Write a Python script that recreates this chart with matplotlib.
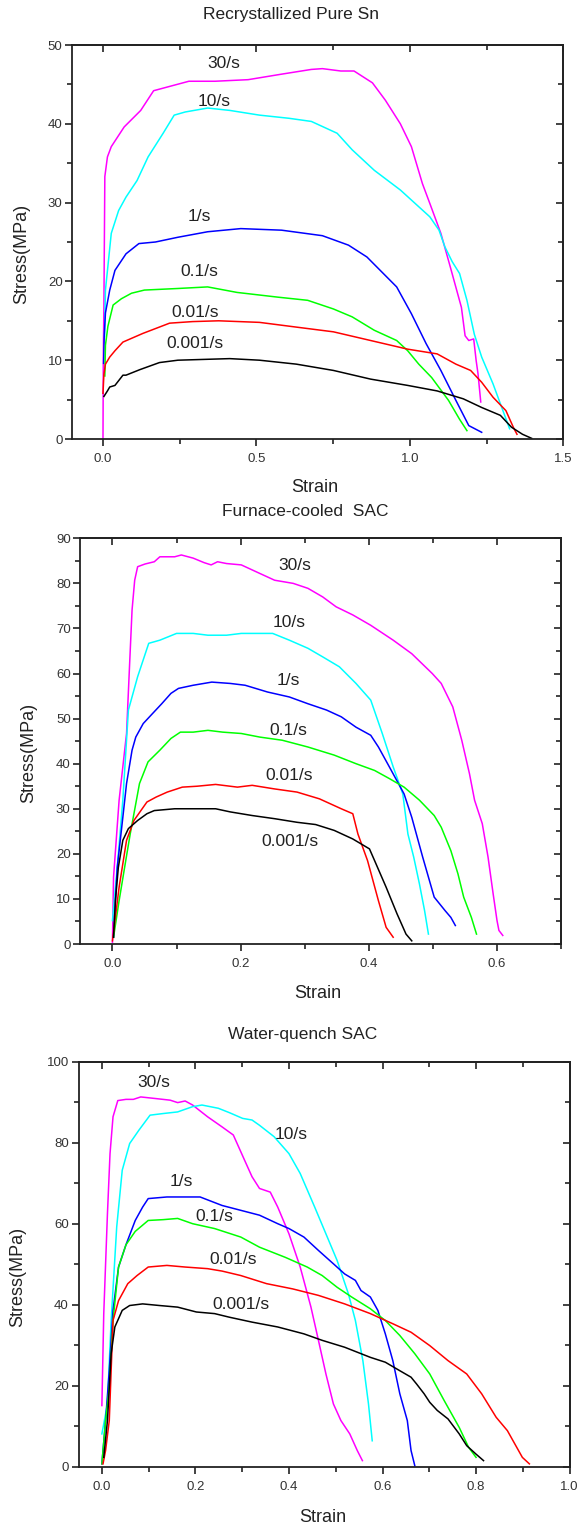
import matplotlib
matplotlib.use("Agg")
import matplotlib.pyplot as plt
from matplotlib.ticker import MultipleLocator, FixedLocator

plt.rcParams['font.family'] = ['Liberation Sans', 'DejaVu Sans']

rates = ["30/s", "10/s", "1/s", "0.1/s", "0.01/s", "0.001/s"]
colors = ["#FF00FF", "#00FFFF", "#0000FF", "#00FF00", "#FF0000", "#000000"]

# ---------------- Recrystallized pure Sn ----------------
sn_30_x = [0.0, 0.001, 0.003, 0.006, 0.0145, 0.027, 0.069, 0.123, 0.165, 0.232, 0.280, 0.365, 0.473,
           0.582, 0.679, 0.715, 0.775, 0.818, 0.878, 0.920, 0.969, 1.005, 1.041, 1.065, 1.101,
           1.132, 1.168, 1.180, 1.192, 1.208, 1.216, 1.222, 1.231]
sn_30_y = [0.0, 10.0, 17.0, 33.3, 35.8, 37.1, 39.6, 41.7, 44.2, 44.9, 45.4, 45.4, 45.6,
           46.3, 46.9, 47.0, 46.7, 46.7, 45.2, 43.0, 40.0, 37.1, 32.4, 29.9, 26.1,
           21.8, 16.7, 13.1, 12.5, 12.7, 9.96, 8.3, 4.7]
sn_10_x = [0.005, 0.008, 0.027, 0.051, 0.075, 0.111, 0.147, 0.196, 0.232, 0.268, 0.341, 0.413, 0.510,
           0.606, 0.679, 0.763, 0.812, 0.884, 0.969, 1.065, 1.095, 1.114, 1.138, 1.162, 1.186,
           1.210, 1.234, 1.271, 1.307, 1.325]
sn_10_y = [13.0, 18.9, 26.1, 29.0, 30.7, 32.8, 35.8, 38.8, 41.1, 41.5, 42.0, 41.7, 41.1,
           40.7, 40.3, 38.8, 36.7, 34.1, 31.6, 28.2, 26.5, 24.4, 22.5, 21.0, 17.6,
           13.3, 10.4, 7.0, 3.2, 1.3]
sn_1_x = [0.002, 0.004, 0.008, 0.022, 0.039, 0.075, 0.117, 0.171, 0.244, 0.341, 0.449, 0.582,
          0.715, 0.800, 0.860, 0.957, 1.005, 1.053, 1.101, 1.150, 1.192, 1.234]
sn_1_y = [9.6, 13.0, 16.0, 18.9, 21.4, 23.5, 24.8, 25.0, 25.6, 26.3, 26.7, 26.5,
          25.8, 24.6, 23.1, 19.3, 15.9, 12.1, 8.7, 4.9, 1.7, 0.85]
sn_01_x = [0.006, 0.008, 0.016, 0.033, 0.060, 0.093, 0.135, 0.244, 0.341, 0.437, 0.570, 0.667,
           0.751, 0.812, 0.884, 0.957, 0.993, 1.029, 1.071, 1.126, 1.162, 1.186]
sn_01_y = [8.0, 11.9, 14.3, 17.0, 17.8, 18.5, 18.9, 19.1, 19.3, 18.6, 18.0, 17.6,
           16.5, 15.5, 13.8, 12.5, 11.2, 9.5, 7.8, 4.9, 2.5, 1.06]
sn_001_x = [0.0, 0.003, 0.008, 0.022, 0.039, 0.065, 0.13, 0.217, 0.292, 0.377, 0.510, 0.630, 0.751,
            0.872, 0.993, 1.089, 1.150, 1.198, 1.234, 1.271, 1.313, 1.337, 1.349]
sn_001_y = [5.8, 8.2, 9.5, 10.4, 11.2, 12.3, 13.4, 14.7, 14.9, 15.0, 14.8, 14.2, 13.6,
            12.5, 11.4, 10.8, 9.5, 8.7, 7.2, 5.3, 3.6, 1.5, 0.6]
sn_0001_x = [0.003, 0.0145, 0.022, 0.039, 0.065, 0.075, 0.12, 0.184, 0.244, 0.328, 0.413, 0.510,
             0.630, 0.751, 0.872, 0.993, 1.089, 1.174, 1.234, 1.295, 1.331, 1.367, 1.397]
sn_0001_y = [5.4, 6.1, 6.6, 6.8, 8.1, 8.1, 8.8, 9.7, 10.0, 10.1, 10.2, 10.0,
             9.5, 8.7, 7.6, 6.8, 6.1, 5.1, 4.0, 3.0, 1.5, 0.6, 0.08]

# ---------------- Furnace-cooled SAC ----------------
fc_30_x = [0.0, 0.0017, 0.0104, 0.022, 0.0266, 0.0306, 0.0347, 0.0393, 0.0509, 0.0653, 0.074,
           0.0971, 0.1075, 0.126, 0.143, 0.154, 0.164, 0.178, 0.201, 0.230, 0.253, 0.282, 0.305,
           0.328, 0.349, 0.375, 0.403, 0.438, 0.467, 0.499, 0.513, 0.531, 0.545, 0.557, 0.565,
           0.577, 0.586, 0.594, 0.600, 0.603, 0.609]
fc_30_y = [0.4, 14.8, 31.9, 46.7, 61.5, 74.1, 80.7, 83.7, 84.3, 84.8, 85.9,
           85.9, 86.3, 85.6, 84.6, 84.1, 84.8, 84.4, 84.1, 82.2, 80.7, 80.0, 78.9,
           77.0, 74.8, 73.0, 70.7, 67.4, 64.4, 60.0, 57.8, 52.6, 45.2, 37.8, 31.9,
           26.7, 19.3, 11.1, 5.2, 3.0, 1.9]
fc_10_x = [0.0, 0.0075, 0.0162, 0.0249, 0.0393, 0.0566, 0.074, 0.100, 0.126, 0.149, 0.178, 0.201,
           0.250, 0.276, 0.305, 0.328, 0.354, 0.380, 0.403, 0.421, 0.438, 0.453, 0.461, 0.470,
           0.479, 0.487, 0.493]
fc_10_y = [5.2, 17.0, 31.9, 51.9, 59.3, 66.7, 67.4, 68.9, 68.9, 68.5, 68.5, 68.9,
           68.9, 67.4, 65.6, 63.7, 61.5, 57.8, 54.1, 46.7, 39.3, 33.3, 24.4, 19.3,
           13.3, 7.4, 2.2]
fc_1_x = [0.0017, 0.0075, 0.0162, 0.022, 0.0306, 0.0364, 0.048, 0.0624, 0.0769, 0.0913, 0.103,
          0.126, 0.155, 0.184, 0.207, 0.242, 0.276, 0.305, 0.334, 0.357, 0.380, 0.403, 0.415,
          0.432, 0.455, 0.467, 0.484, 0.502, 0.519, 0.528, 0.535]
fc_1_y = [1.5, 17.0, 28.1, 35.6, 43.0, 45.9, 48.9, 51.1, 53.3, 55.6, 56.7,
          57.4, 58.1, 57.8, 57.4, 55.9, 54.8, 53.3, 51.9, 50.4, 48.1, 46.3, 43.7,
          39.3, 33.3, 28.1, 19.3, 10.4, 7.4, 5.9, 4.1]
fc_01_x = [0.0017, 0.0104, 0.019, 0.0277, 0.0422, 0.0555, 0.074, 0.0913, 0.106, 0.126, 0.149,
           0.172, 0.201, 0.230, 0.265, 0.305, 0.346, 0.380, 0.409, 0.432, 0.455, 0.479, 0.502,
           0.513, 0.528, 0.539, 0.548, 0.560, 0.568]
fc_01_y = [1.5, 9.6, 17.0, 24.4, 35.6, 40.4, 43.0, 45.6, 47.0, 47.0, 47.4,
           47.0, 46.7, 45.9, 45.2, 43.7, 41.9, 40.0, 38.5, 36.7, 34.8, 31.9, 28.5,
           25.9, 20.7, 15.6, 10.4, 5.9, 2.2]
fc_001_x = [0.0, 0.0104, 0.022, 0.0335, 0.0538, 0.0682, 0.0855, 0.109, 0.132, 0.161, 0.195,
            0.218, 0.253, 0.288, 0.323, 0.357, 0.375, 0.383, 0.398, 0.415, 0.427, 0.438]
fc_001_y = [0.7, 12.6, 23.0, 27.4, 31.5, 32.6, 33.7, 34.8, 35.0, 35.4, 34.8,
            35.2, 34.4, 33.7, 32.2, 30.0, 28.9, 24.4, 18.5, 9.6, 3.7, 1.5]
fc_0001_x = [0.0017, 0.0046, 0.0092, 0.0162, 0.0249, 0.0393, 0.0538, 0.0653, 0.0971, 0.138,
             0.161, 0.184, 0.218, 0.253, 0.288, 0.317, 0.346, 0.375, 0.401, 0.409, 0.427,
             0.444, 0.458, 0.467]
fc_0001_y = [1.5, 9.6, 17.0, 23.0, 25.6, 27.4, 28.9, 29.6, 30.0, 30.0,
             30.0, 29.3, 28.5, 27.8, 27.0, 26.5, 25.2, 23.3, 21.1, 18.5, 12.6,
             6.7, 2.2, 0.7]

# ---------------- Water-quench SAC ----------------
wq_30_x = [0.0, 0.004, 0.0119, 0.0174, 0.0238, 0.034, 0.0515, 0.0673, 0.0831, 0.115, 0.146,
           0.162, 0.178, 0.194, 0.226, 0.257, 0.281, 0.305, 0.321, 0.337, 0.360, 0.376, 0.400,
           0.424, 0.447, 0.463, 0.479, 0.495, 0.511, 0.530, 0.546, 0.557]
wq_30_y = [15.1, 37.8, 62.5, 77.3, 86.4, 90.4, 90.7, 90.7, 91.3, 90.9, 90.5,
           89.9, 90.3, 89.3, 86.4, 83.9, 81.9, 75.7, 71.6, 68.7, 67.8, 64.1, 57.5,
           49.3, 39.4, 31.2, 22.9, 15.5, 11.4, 8.1, 4.0, 1.5]
wq_10_x = [0.0, 0.0119, 0.0198, 0.0317, 0.0435, 0.0594, 0.0792, 0.103, 0.131, 0.162, 0.194,
           0.214, 0.249, 0.273, 0.301, 0.321, 0.337, 0.368, 0.400, 0.424, 0.455, 0.479, 0.503,
           0.527, 0.542, 0.558, 0.570, 0.578]
wq_10_y = [8.1, 15.5, 36.1, 59.2, 73.2, 79.8, 83.1, 86.8, 87.2, 87.6, 88.9,
           89.3, 88.5, 87.4, 86.0, 85.6, 84.3, 81.5, 77.3, 72.4, 64.1, 57.5, 50.9,
           42.7, 36.1, 26.2, 15.5, 6.4]
wq_1_x = [0.0, 0.0079, 0.0158, 0.0238, 0.0356, 0.0515, 0.0713, 0.0871, 0.099, 0.139, 0.210,
          0.257, 0.297, 0.337, 0.376, 0.400, 0.432, 0.463, 0.495, 0.519, 0.542, 0.554, 0.574,
          0.590, 0.606, 0.622, 0.637, 0.653, 0.661, 0.669]
wq_1_y = [0.7, 11.4, 23.7, 38.6, 49.3, 54.8, 60.8, 64.1, 66.2, 66.6, 66.6,
          64.5, 63.3, 62.1, 60.0, 58.8, 56.7, 53.4, 50.1, 47.6, 46.0, 43.5, 41.9,
          38.6, 32.8, 26.2, 18.0, 11.4, 4.0, 0.25]
wq_01_x = [0.0, 0.0079, 0.0158, 0.0238, 0.0356, 0.0515, 0.0713, 0.099, 0.131, 0.162, 0.194,
           0.241, 0.297, 0.337, 0.392, 0.439, 0.471, 0.503, 0.534, 0.574, 0.606, 0.637, 0.669,
           0.701, 0.732, 0.764, 0.784, 0.800]
wq_01_y = [0.7, 11.4, 19.6, 36.1, 49.3, 54.8, 58.1, 60.8, 61.0, 61.3, 60.0,
           58.8, 56.7, 54.2, 51.7, 49.3, 47.2, 44.3, 41.9, 39.0, 36.1, 32.4, 27.9,
           22.9, 16.3, 9.7, 4.8, 2.3]
wq_001_x = [0.0024, 0.0079, 0.0158, 0.0238, 0.0356, 0.0554, 0.0752, 0.099, 0.139, 0.178, 0.226,
            0.257, 0.297, 0.352, 0.408, 0.463, 0.519, 0.574, 0.622, 0.661, 0.701, 0.740, 0.780,
            0.812, 0.843, 0.867, 0.883, 0.899, 0.914]
wq_001_y = [0.7, 4.0, 11.4, 36.1, 41.0, 45.2, 47.2, 49.3, 49.7, 49.3, 48.9,
            48.3, 47.2, 45.2, 43.9, 42.3, 40.2, 37.8, 35.3, 33.2, 29.9, 26.2, 22.9,
            18.0, 12.2, 8.9, 5.6, 2.3, 0.7]
wq_0001_x = [0.004, 0.0119, 0.0198, 0.0277, 0.0435, 0.0594, 0.0871, 0.123, 0.162, 0.202, 0.241,
             0.273, 0.321, 0.376, 0.432, 0.471, 0.519, 0.574, 0.606, 0.637, 0.661, 0.673, 0.689,
             0.701, 0.717, 0.740, 0.764, 0.780, 0.800, 0.816]
wq_0001_y = [2.3, 11.4, 27.9, 34.5, 38.6, 39.8, 40.2, 39.8, 39.4, 38.2, 37.8,
             36.9, 35.7, 34.5, 32.8, 31.2, 29.5, 27.0, 25.8, 23.7, 22.1, 20.4, 18.0,
             15.9, 13.9, 11.8, 8.1, 5.2, 3.1, 1.5]

W, H = 581, 1531
fig = plt.figure(figsize=(W / 100, H / 100), dpi=100)


def px_axes(left, top, right, bottom):
    return fig.add_axes([left / W, 1 - bottom / H, (right - left) / W, (bottom - top) / H])


def style_axes(ax, xlim, ylim, xmajor, xminor, ymajor, yminor, xfmt):
    ax.set_xlim(*xlim)
    ax.set_ylim(*ylim)
    ax.xaxis.set_major_locator(FixedLocator(xmajor))
    ax.set_xticklabels([xfmt.format(v) for v in xmajor])
    ax.xaxis.set_minor_locator(FixedLocator(xminor))
    ax.yaxis.set_major_locator(MultipleLocator(ymajor))
    ax.yaxis.set_minor_locator(MultipleLocator(yminor))
    for s in ax.spines.values():
        s.set_linewidth(1.3)
        s.set_color("#222222")
    ax.tick_params(which="both", direction="out", top=False, right=False,
                   width=1.2, color="#222222", labelsize=9.5, labelcolor="#333333")
    ax.tick_params(which="major", length=5)
    ax.tick_params(which="minor", length=3.5)
    ax.tick_params(axis="x", pad=5)
    ax.tick_params(axis="y", pad=2)
    top = ax.secondary_xaxis("top")
    top.xaxis.set_major_locator(FixedLocator(xmajor))
    top.xaxis.set_minor_locator(FixedLocator(xminor))
    top.tick_params(which="both", direction="in", labeltop=False, width=1.2, color="#222222")
    top.tick_params(which="major", length=5)
    top.tick_params(which="minor", length=3.5)
    right = ax.secondary_yaxis("right")
    right.yaxis.set_major_locator(MultipleLocator(ymajor))
    right.yaxis.set_minor_locator(MultipleLocator(yminor))
    right.tick_params(which="both", direction="in", labelright=False, width=1.2, color="#222222")
    right.tick_params(which="major", length=5)
    right.tick_params(which="minor", length=3.5)
    for sec in (top, right):
        for s in sec.spines.values():
            s.set_linewidth(1.3)
            s.set_color("#222222")


def draw_curves(ax, series, label_pos):
    for (xs, ys), c in zip(series, colors):
        ax.plot(xs, ys, color=c, lw=1.1, solid_joinstyle="round")
    for r, (lx, ly) in zip(rates, label_pos):
        ax.text(lx, ly, r, ha="center", va="center", fontsize=12.5, color="#222222")


# Panel 1
ax1 = px_axes(72.3, 45, 563.3, 439)
style_axes(ax1, (-0.1, 1.5), (0, 50), [0.0, 0.5, 1.0, 1.5],
           [0.25, 0.75, 1.25], 10, 5, "{:.1f}")
draw_curves(ax1, [(sn_30_x, sn_30_y), (sn_10_x, sn_10_y), (sn_1_x, sn_1_y),
                  (sn_01_x, sn_01_y), (sn_001_x, sn_001_y), (sn_0001_x, sn_0001_y)],
            [(0.395, 47.7), (0.362, 42.8), (0.314, 28.2), (0.314, 21.3), (0.300, 16.0), (0.300, 12.1)])

# Panel 2
ax2 = px_axes(80.4, 538.3, 561.1, 944)
style_axes(ax2, (-0.05, 0.7), (0, 90), [0.0, 0.2, 0.4, 0.6],
           [0.1, 0.3, 0.5, 0.7], 10, 5, "{:.1f}")
draw_curves(ax2, [(fc_30_x, fc_30_y), (fc_10_x, fc_10_y), (fc_1_x, fc_1_y),
                  (fc_01_x, fc_01_y), (fc_001_x, fc_001_y), (fc_0001_x, fc_0001_y)],
            [(0.285, 83.9), (0.275, 71.3), (0.275, 58.4), (0.275, 47.3), (0.275, 37.4), (0.277, 22.8)])

# Panel 3
ax3 = px_axes(78.5, 1061.7, 569.6, 1466.7)
style_axes(ax3, (-0.05, 1.0), (0, 100), [0.0, 0.2, 0.4, 0.6, 0.8, 1.0],
           [0.1, 0.3, 0.5, 0.7, 0.9], 20, 10, "{:.1f}")
draw_curves(ax3, [(wq_30_x, wq_30_y), (wq_10_x, wq_10_y), (wq_1_x, wq_1_y),
                  (wq_01_x, wq_01_y), (wq_001_x, wq_001_y), (wq_0001_x, wq_0001_y)],
            [(0.111, 94.8), (0.404, 82.1), (0.169, 70.5), (0.241, 61.7), (0.280, 51.2), (0.297, 40.1)])


def fig_text(x, y, s, **kw):
    fig.text(x / W, 1 - y / H, s, ha="center", va="center", color="#222222", **kw)


fig_text(291, 14, "Recrystallized Pure Sn", fontsize=12.5)
fig_text(305, 511, "Furnace-cooled  SAC", fontsize=12.5)
fig_text(303, 1034, "Water-quench SAC", fontsize=12.5)

fig_text(315, 488, "Strain", fontsize=13)
fig_text(318, 993, "Strain", fontsize=13)
fig_text(323, 1517, "Strain", fontsize=13)

fig_text(22, 254, "Stress(MPa)", fontsize=13, rotation=90)
fig_text(29, 753, "Stress(MPa)", fontsize=13, rotation=90)
fig_text(18, 1277, "Stress(MPa)", fontsize=13, rotation=90)

fig.savefig("out.png", dpi=100)
